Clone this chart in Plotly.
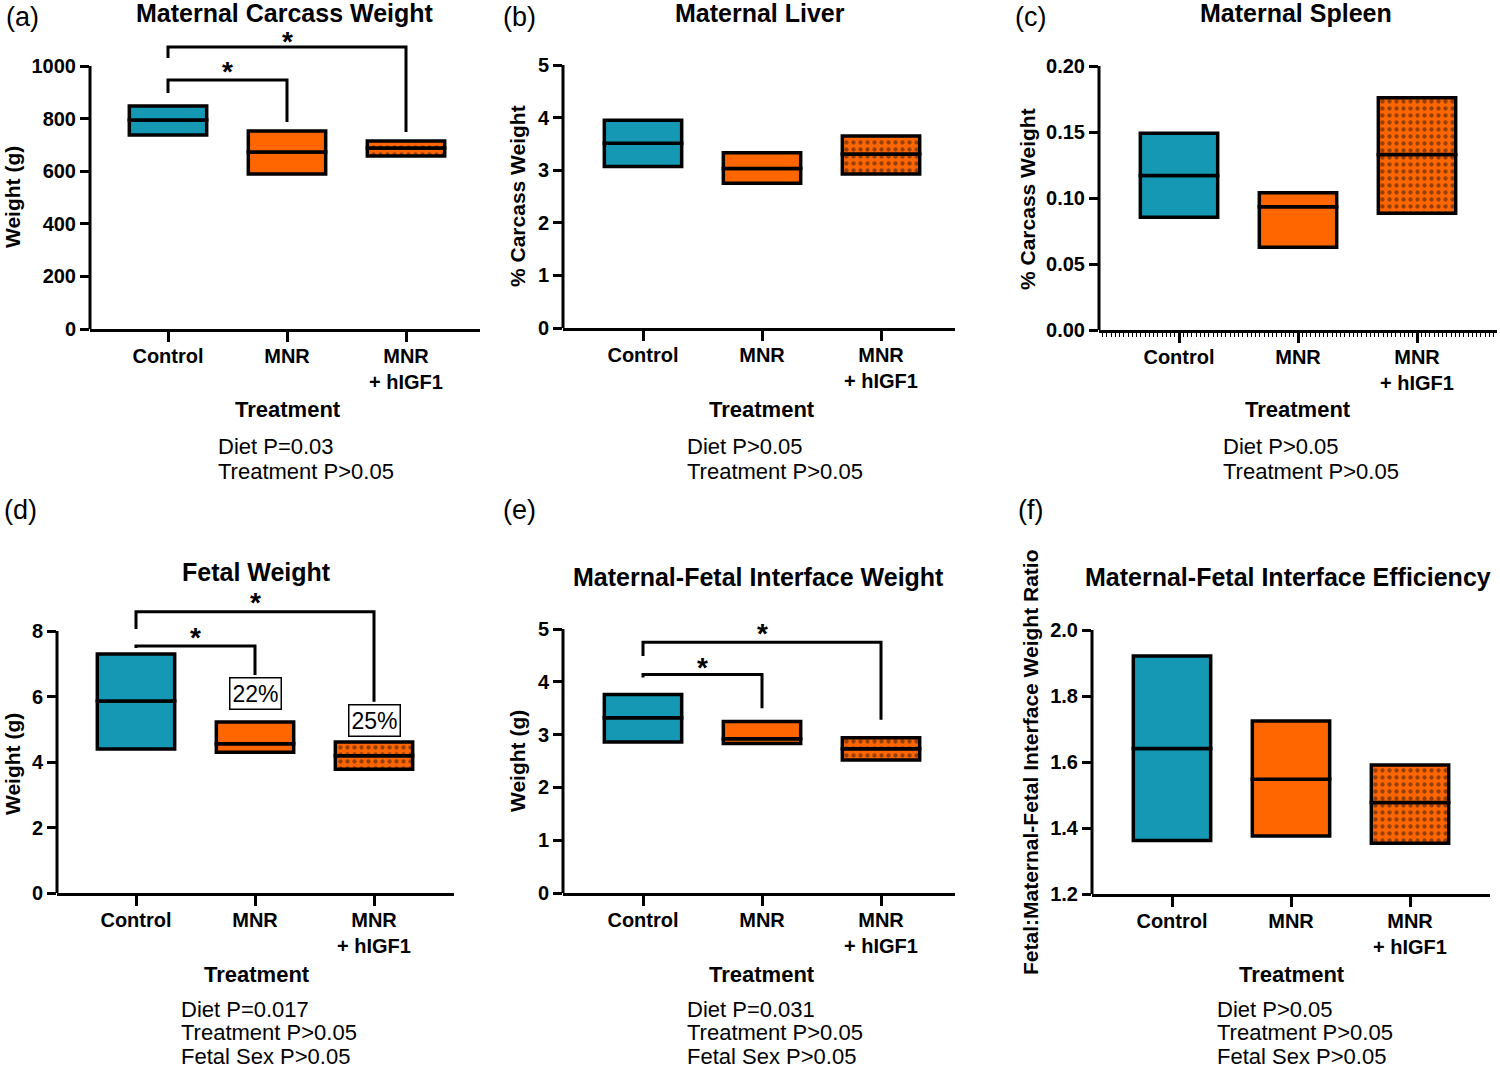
import plotly.graph_objects as go

W, H = 1500, 1071

# ---- data: min / median / max of each group ----
groups = ["Control", "MNR", "MNR<br>+ hIGF1"]
colors = ["#1598B4", "#FF6600", "#FF6600"]
patterned = [False, False, True]

carcass_min = [738, 589, 658]
carcass_med = [795, 673, 688]
carcass_max = [848, 753, 715]

liver_min = [3.07, 2.75, 2.93]
liver_med = [3.51, 3.03, 3.31]
liver_max = [3.95, 3.33, 3.65]

spleen_min = [0.0854, 0.0626, 0.0884]
spleen_med = [0.117, 0.0934, 0.133]
spleen_max = [0.149, 0.104, 0.176]

fetal_min = [4.40, 4.30, 3.78]
fetal_med = [5.86, 4.56, 4.19]
fetal_max = [7.30, 5.22, 4.61]

mfi_min = [2.86, 2.83, 2.52]
mfi_med = [3.32, 2.92, 2.73]
mfi_max = [3.76, 3.25, 2.94]

eff_min = [1.362, 1.376, 1.354]
eff_med = [1.641, 1.548, 1.477]
eff_max = [1.921, 1.724, 1.591]

# tick labels
ticks_carcass = [0, 200, 400, 600, 800, 1000]
ticks_liver = [0, 1, 2, 3, 4, 5]
ticks_spleen = [0, 0.05, 0.10, 0.15, 0.20]
ticks_spleen_txt = ["0.00", "0.05", "0.10", "0.15", "0.20"]
ticks_fetal = [0, 2, 4, 6, 8]
ticks_mfi = [0, 1, 2, 3, 4, 5]
ticks_eff = [1.2, 1.4, 1.6, 1.8, 2.0]
ticks_eff_txt = ["1.2", "1.4", "1.6", "1.8", "2.0"]

stats_a = ["Diet P=0.03", "Treatment P>0.05"]
stats_b = ["Diet P>0.05", "Treatment P>0.05"]
stats_c = ["Diet P>0.05", "Treatment P>0.05"]
stats_d = ["Diet P=0.017", "Treatment P>0.05", "Fetal Sex P>0.05"]
stats_e = ["Diet P=0.031", "Treatment P>0.05", "Fetal Sex P>0.05"]
stats_f = ["Diet P>0.05", "Treatment P>0.05", "Fetal Sex P>0.05"]

# significance brackets: (from group, to group, bar level, left end, right end)
brackets_a = [(0, 1, 947, 897, 787), (0, 2, 1072, 1030, 749)]
stars_a = [(0.5, 1004), (1, 1118)]
brackets_d = [(0, 1, 7.54, 7.48, 6.66), (0, 2, 8.59, 8.06, 5.84)]
stars_d = [(0.5, 8.03), (1, 9.07)]
pct_d = [(1, 6.08, "22%"), (2, 5.28, "25%")]
brackets_e = [(0, 1, 4.14, 4.08, 3.50), (0, 2, 4.75, 4.49, 3.28)]
stars_e = [(0.5, 4.41), (1, 5.04)]

FONT = "Liberation Sans, Arial, sans-serif"

# panel layout in pixels
panels = [
    dict(letter="(a)", title="Maternal Carcass Weight", ytitle="Weight (g)",
         mn=carcass_min, md=carcass_med, mx=carcass_max,
         tv=ticks_carcass, tt=[str(v) for v in ticks_carcass], lo=0, hi=1000,
         ax=90, c0=168, xe=480, yz=329, yt=66, ext=18,
         tpos=(285, 13), lpos=(22, 17), trt=(288, 410), st=(217, 446), gap=25, stats=stats_a,
         yti=(12, 197, 21), br=brackets_a, stars=stars_a),
    dict(letter="(b)", title="Maternal Liver", ytitle="% Carcass Weight",
         mn=liver_min, md=liver_med, mx=liver_max,
         tv=ticks_liver, tt=[str(v) for v in ticks_liver], lo=0, hi=5,
         ax=563, c0=643, xe=955, yz=328, yt=65, ext=62,
         tpos=(760, 13), lpos=(519, 17), trt=(762, 410), st=(686, 446), gap=25, stats=stats_b,
         yti=(517, 196, 21)),
    dict(letter="(c)", title="Maternal Spleen", ytitle="% Carcass Weight",
         mn=spleen_min, md=spleen_med, mx=spleen_max,
         tv=ticks_spleen, tt=ticks_spleen_txt, lo=0, hi=0.2,
         ax=1099, c0=1179, xe=1497, yz=330, yt=66, ext=63,
         tpos=(1296, 13), lpos=(1030, 17), trt=(1298, 410), st=(1222, 446), gap=25, stats=stats_c,
         yti=(1027, 199, 21), minor=True),
    dict(letter="(d)", title="Fetal Weight", ytitle="Weight (g)",
         mn=fetal_min, md=fetal_med, mx=fetal_max,
         tv=ticks_fetal, tt=[str(v) for v in ticks_fetal], lo=0, hi=8,
         ax=57, c0=136, xe=454, yz=893, yt=631, ext=583,
         tpos=(256, 572), lpos=(20, 510), trt=(257, 974), st=(180, 1009), gap=23.5, stats=stats_d,
         yti=(12, 764, 21), br=brackets_d, stars=stars_d, pct=pct_d),
    dict(letter="(e)", title="Maternal-Fetal Interface Weight", ytitle="Weight (g)",
         mn=mfi_min, md=mfi_med, mx=mfi_max,
         tv=ticks_mfi, tt=[str(v) for v in ticks_mfi], lo=0, hi=5,
         ax=563, c0=643, xe=955, yz=893, yt=629, ext=612,
         tpos=(758, 577), lpos=(519, 510), trt=(762, 974), st=(686, 1009), gap=23.5, stats=stats_e,
         yti=(517, 761, 21), br=brackets_e, stars=stars_e),
    dict(letter="(f)", title="Maternal-Fetal Interface Efficiency",
         ytitle="Fetal:Maternal-Fetal Interface Weight Ratio",
         mn=eff_min, md=eff_med, mx=eff_max,
         tv=ticks_eff, tt=ticks_eff_txt, lo=1.2, hi=2.0,
         ax=1092, c0=1172, xe=1490, yz=894, yt=630, ext=627,
         tpos=(1288, 577), lpos=(1030, 510), trt=(1292, 974), st=(1216, 1009), gap=23.5, stats=stats_f,
         yti=(1030, 762, 21)),
]

SPACING = 119.0  # pixels between category centres


def px(x):
    return x / W


def py(y):
    return 1 - y / H


def paper_text(x, y, text, size, **kw):
    d = dict(x=px(x), y=py(y), xref="paper", yref="paper", text=text, showarrow=False,
             xanchor="center", yanchor="middle", font=dict(family=FONT, size=size, color="black"))
    d.update(kw)
    return d


fig = go.Figure()
annotations = []
shapes = []

for k, p in enumerate(panels, start=1):
    sfx = "" if k == 1 else str(k)
    xa, ya = "x" + sfx, "y" + sfx
    # bars: lower half (min->median) and upper half (median->max); the shared edge is the median line
    for i in range(3):
        pat = dict(shape=".", fgcolor="#2a1a10", bgcolor=colors[i], size=7, solidity=0.3) if patterned[i] else None
        for base, top in ((p["mn"][i], p["md"][i]), (p["md"][i], p["mx"][i])):
            fig.add_trace(go.Bar(
                x=[i], y=[top - base], base=[base], width=0.65,
                marker=dict(color=colors[i], line=dict(color="black", width=3.5), pattern=pat),
                xaxis=xa, yaxis=ya, showlegend=False, hoverinfo="skip",
            ))

    scale = (p["yz"] - p["yt"]) / (p["hi"] - p["lo"])
    rtop = p["hi"] + (p["yt"] - p["ext"]) / scale
    xr = [(p["ax"] - p["c0"]) / SPACING, (p["xe"] - p["c0"]) / SPACING]

    xaxis = dict(domain=[px(p["ax"]), px(p["xe"])], range=xr, anchor=ya,
                 tickvals=[0, 1, 2], ticktext=groups, showline=True, linewidth=3, linecolor="black",
                 ticks="outside", ticklen=10, tickwidth=3, tickcolor="black",
                 tickfont=dict(family=FONT, size=20, color="black", weight="bold"),
                 showgrid=False, zeroline=False, ticklabelstandoff=-3)
    if p.get("minor"):
        xaxis["minor"] = dict(ticks="outside", ticklen=4, tickwidth=1, tickcolor="black",
                              dtick=1 / 28, tick0=0, showgrid=False)
    yaxis = dict(domain=[py(p["yz"]), py(p["ext"])], range=[p["lo"], rtop], anchor=xa,
                 tickvals=p["tv"], ticktext=p["tt"], showline=False,
                 ticks="outside", ticklen=9, tickwidth=3, tickcolor="black",
                 tickfont=dict(family=FONT, size=20, color="black", weight="bold"),
                 showgrid=False, zeroline=False)
    fig.update_layout({"xaxis" + sfx: xaxis, "yaxis" + sfx: yaxis})

    # y axis line only up to the top tick
    shapes.append(dict(type="line", xref=f"{xa} domain", yref=f"{ya} domain",
                       x0=0, x1=0, y0=0, y1=(p["hi"] - p["lo"]) / (rtop - p["lo"]),
                       line=dict(color="black", width=3)))

    for g0, g1, lvl, l_end, r_end in p.get("br", []):
        shapes.append(dict(type="path", xref=xa, yref=ya,
                           path=f"M {g0},{l_end} L {g0},{lvl} L {g1},{lvl} L {g1},{r_end}",
                           line=dict(color="black", width=3)))
    for sx, sy in p.get("stars", []):
        annotations.append(dict(x=sx, y=sy, xref=xa, yref=ya, text="<b>*</b>", showarrow=False,
                                xanchor="center", yanchor="middle",
                                font=dict(family=FONT, size=28, color="black"), yshift=-7))
    for tx, ty, txt in p.get("pct", []):
        annotations.append(dict(x=tx, y=ty, xref=xa, yref=ya, text=txt, showarrow=False,
                                xanchor="center", yanchor="middle",
                                font=dict(family=FONT, size=23, color="black"),
                                bgcolor="white", bordercolor="black", borderwidth=1.5, borderpad=2))

    # texts around the panel
    annotations.append(paper_text(*p["tpos"], f"<b>{p['title']}</b>", 25))
    annotations.append(paper_text(*p["lpos"], p["letter"], 27))
    annotations.append(paper_text(*p["trt"], "<b>Treatment</b>", 22))
    yx, yy, ys = p["yti"]
    annotations.append(paper_text(yx, yy, f"<b>{p['ytitle']}</b>", ys, textangle=-90))
    for j, line in enumerate(p["stats"]):
        annotations.append(paper_text(p["st"][0], p["st"][1] + p["gap"] * j, line, 22,
                                      xanchor="left", borderpad=0))

fig.update_layout(
    width=W, height=H, autosize=False,
    margin=dict(l=0, r=0, t=0, b=0, autoexpand=False),
    paper_bgcolor="white", plot_bgcolor="white",
    barmode="overlay", showlegend=False,
    shapes=shapes, annotations=annotations,
)

fig.write_html("out.html", config={"displayModeBar": False},
               post_script="document.body.style.margin='0px';")
